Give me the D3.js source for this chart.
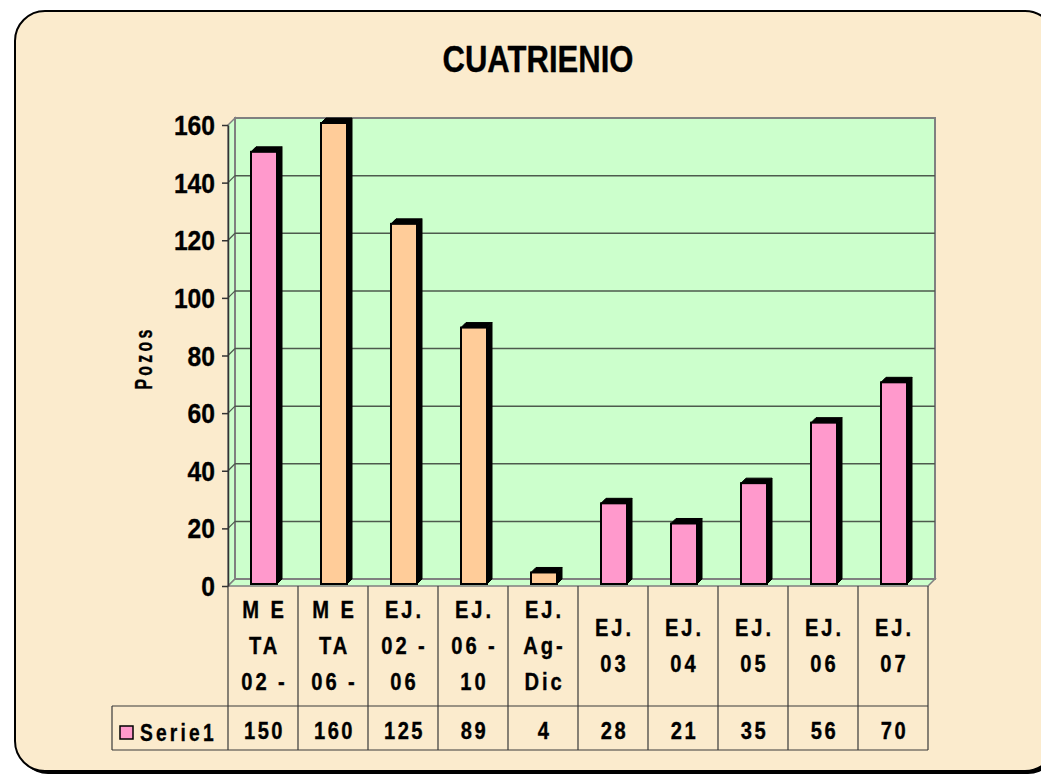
<!DOCTYPE html>
<html>
<head>
<meta charset="utf-8">
<script src="https://d3js.org/d3.v7.min.js"></script>
<style>
  body { margin: 0; background: #ffffff; }
  svg { display: block; }
  text { font-family: "Liberation Sans", Arial, sans-serif; font-weight: bold; fill: #000; stroke: #000; stroke-width: 0.35px; }
</style>
</head>
<body>
<script>
// chart data
let title = "CUATRIENIO";
let yTitle = "Pozos";
let seriesName = "Serie1";
let categories = [
    ["M E", "TA", "02 -"],
    ["M E", "TA", "06 -"],
    ["EJ.", "02 -", "06"],
    ["EJ.", "06 -", "10"],
    ["EJ.", "Ag-", "Dic"],
    ["EJ.", "03"],
    ["EJ.", "04"],
    ["EJ.", "05"],
    ["EJ.", "06"],
    ["EJ.", "07"]
];
let values = [150, 160, 125, 89, 4, 28, 21, 35, 56, 70];
let barColors = ["#ff99cc", "#ffcc99", "#ffcc99", "#ffcc99", "#ffcc99",
                 "#ff99cc", "#ff99cc", "#ff99cc", "#ff99cc", "#ff99cc"];
let yTicks = [0, 20, 40, 60, 80, 100, 120, 140, 160];

let w = 1041;
let h = 776;

// 3D depth of the walls and of the bars
let depth = 7;
let barDepth = 5;

let svg = d3.select("body").append("svg")
    .attr("width", w)
    .attr("height", h);

// chart frame with a shadow (right edge runs past the window)
svg.append("rect")
    .attr("x", 18).attr("y", 14)
    .attr("width", 1040).attr("height", 760)
    .attr("rx", 30)
    .attr("fill", "#000");
svg.append("rect")
    .attr("x", 15).attr("y", 11)
    .attr("width", 1040).attr("height", 760)
    .attr("rx", 30)
    .attr("fill", "#fbebcd")
    .attr("stroke", "#000")
    .attr("stroke-width", 2);

// scales
let x = d3.scaleBand()
    .domain(d3.range(values.length))
    .range([228, 928]);

let y = d3.scaleLinear()
    .domain([0, 160])
    .range([586, 125]);

let x0 = x.range()[0], x1 = x.range()[1];
let yBase = y(0), yTop = y(160);

// left side wall
svg.append("polygon")
    .attr("points", [[x0, yBase], [x0, yTop], [x0 + depth, yTop - depth], [x0 + depth, yBase - depth]].join(" "))
    .attr("fill", "#ccffcc")
    .attr("stroke", "#808080")
    .attr("stroke-width", 1.5);

// floor
svg.append("polygon")
    .attr("points", [[x0, yBase], [x1, yBase], [x1 + depth, yBase - depth], [x0 + depth, yBase - depth]].join(" "))
    .attr("fill", "#ccffcc")
    .attr("stroke", "#808080")
    .attr("stroke-width", 1.5);

// back wall
svg.append("rect")
    .attr("x", x0 + depth)
    .attr("y", yTop - depth)
    .attr("width", x1 - x0)
    .attr("height", yBase - yTop)
    .attr("fill", "#ccffcc")
    .attr("stroke", "#808080")
    .attr("stroke-width", 2);

// gridlines on the back wall and the side wall
let grid = svg.append("g");
grid.selectAll("line.back")
    .data(yTicks.filter(d => d > 0 && d < 160))
    .join("line")
    .attr("class", "back")
    .attr("x1", x0 + depth).attr("x2", x1 + depth)
    .attr("y1", d => y(d) - depth).attr("y2", d => y(d) - depth)
    .attr("stroke", "#4d5a4d")
    .attr("stroke-width", 1.5);
grid.selectAll("line.side")
    .data(yTicks.filter(d => d > 0 && d < 160))
    .join("line")
    .attr("class", "side")
    .attr("x1", x0).attr("x2", x0 + depth)
    .attr("y1", d => y(d)).attr("y2", d => y(d) - depth)
    .attr("stroke", "#4d5a4d")
    .attr("stroke-width", 1.2);

// y axis
let yAxis = d3.axisLeft(y)
    .tickValues(yTicks)
    .tickSize(6)
    .tickSizeOuter(0)
    .tickFormat("");
let gy = svg.append("g")
    .attr("transform", "translate(" + x0 + ",0)")
    .call(yAxis);
gy.select(".domain").attr("stroke", "#333").attr("stroke-width", 1.5);
gy.selectAll(".tick line").attr("stroke", "#333").attr("stroke-width", 1.5);

svg.append("g").selectAll("text")
    .data(yTicks)
    .join("text")
    .attr("transform", d => "translate(215," + (y(d) + 10) + ") scale(0.88,1)")
    .attr("text-anchor", "end")
    .attr("font-size", 28)
    .text(d => d);

// bars (front face, top face and right side)
let barW = 26;
let bars = svg.append("g").selectAll("g")
    .data(values)
    .join("g");

function fx(i) { return x(i) + x.bandwidth() / 2 - barW / 2 + 1; }
function fBottom() { return y(0) - 2; }
function fTop(d) { return y(d) - 2; }

bars.append("polygon")
    .attr("points", (d, i) => [
        [fx(i) + barW, fTop(d)], [fx(i) + barW + barDepth, fTop(d) - barDepth],
        [fx(i) + barW + barDepth, fBottom() - barDepth], [fx(i) + barW, fBottom()]
    ].join(" "))
    .attr("fill", "#000")
    .attr("stroke", "#000")
    .attr("stroke-width", 1);

bars.append("polygon")
    .attr("points", (d, i) => [
        [fx(i), fTop(d)], [fx(i) + barDepth, fTop(d) - barDepth],
        [fx(i) + barW + barDepth, fTop(d) - barDepth], [fx(i) + barW, fTop(d)]
    ].join(" "))
    .attr("fill", "#000")
    .attr("stroke", "#000")
    .attr("stroke-width", 1);

bars.append("rect")
    .attr("x", (d, i) => fx(i))
    .attr("y", d => fTop(d))
    .attr("width", barW)
    .attr("height", d => fBottom() - fTop(d))
    .attr("fill", (d, i) => barColors[i])
    .attr("stroke", "#000")
    .attr("stroke-width", 2);

// data table under the chart
let rowCat = [yBase, 706];
let rowVal = [706, 750];
let legendX = 112;
let table = svg.append("g").attr("stroke", "#3a3a3a").attr("stroke-width", 1.2);

table.selectAll("line.v")
    .data(d3.range(values.length + 1))
    .join("line")
    .attr("class", "v")
    .attr("x1", i => x0 + i * x.bandwidth()).attr("x2", i => x0 + i * x.bandwidth())
    .attr("y1", rowCat[0]).attr("y2", rowVal[1]);
table.append("line")
    .attr("x1", legendX).attr("x2", x1)
    .attr("y1", rowVal[0]).attr("y2", rowVal[0]);
table.append("line")
    .attr("x1", legendX).attr("x2", x1)
    .attr("y1", rowVal[1]).attr("y2", rowVal[1]);
table.append("line")
    .attr("x1", legendX).attr("x2", legendX)
    .attr("y1", rowVal[0]).attr("y2", rowVal[1]);

// category labels
let lineH = 36;
let catMid = (rowCat[0] + rowCat[1]) / 2;
let catGroups = svg.append("g").selectAll("g")
    .data(categories)
    .join("g");
catGroups.selectAll("text")
    .data(lines => lines.map((t, k) => ({ t: t, k: k, n: lines.length })))
    .join("text")
    .attr("transform", function (d) {
        let i = categories.indexOf(d3.select(this.parentNode).datum());
        let cx = x(i) + x.bandwidth() / 2 + 1.5;
        let cy = catMid + (d.k - (d.n - 1) / 2) * lineH + 8;
        return "translate(" + cx + "," + cy + ") scale(0.84,1)";
    })
    .attr("text-anchor", "middle")
    .attr("font-size", 24)
    .attr("letter-spacing", 3.5)
    .text(d => d.t);

// values row
svg.append("g").selectAll("text")
    .data(values)
    .join("text")
    .attr("transform", (d, i) => "translate(" + (x(i) + x.bandwidth() / 2 + 1.5) + "," + (rowVal[0] + 33) + ") scale(0.84,1)")
    .attr("text-anchor", "middle")
    .attr("font-size", 24)
    .attr("letter-spacing", 3)
    .text(d => d);

// legend key in the table
svg.append("rect")
    .attr("x", 120).attr("y", 726)
    .attr("width", 13).attr("height", 13)
    .attr("fill", barColors[0])
    .attr("stroke", "#000")
    .attr("stroke-width", 1.5);
svg.append("text")
    .attr("transform", "translate(140,741) scale(0.8,1)")
    .attr("font-size", 24)
    .attr("letter-spacing", 4)
    .text(seriesName);

// title
svg.append("text")
    .attr("transform", "translate(538,72) scale(0.84,1)")
    .attr("text-anchor", "middle")
    .attr("font-size", 37)
    .text(title);

// y axis title
svg.append("text")
    .attr("transform", "translate(152,358) rotate(-90) scale(0.66,1)")
    .attr("text-anchor", "middle")
    .attr("font-size", 24)
    .attr("letter-spacing", 5)
    .text(yTitle);
</script>
</body>
</html>
